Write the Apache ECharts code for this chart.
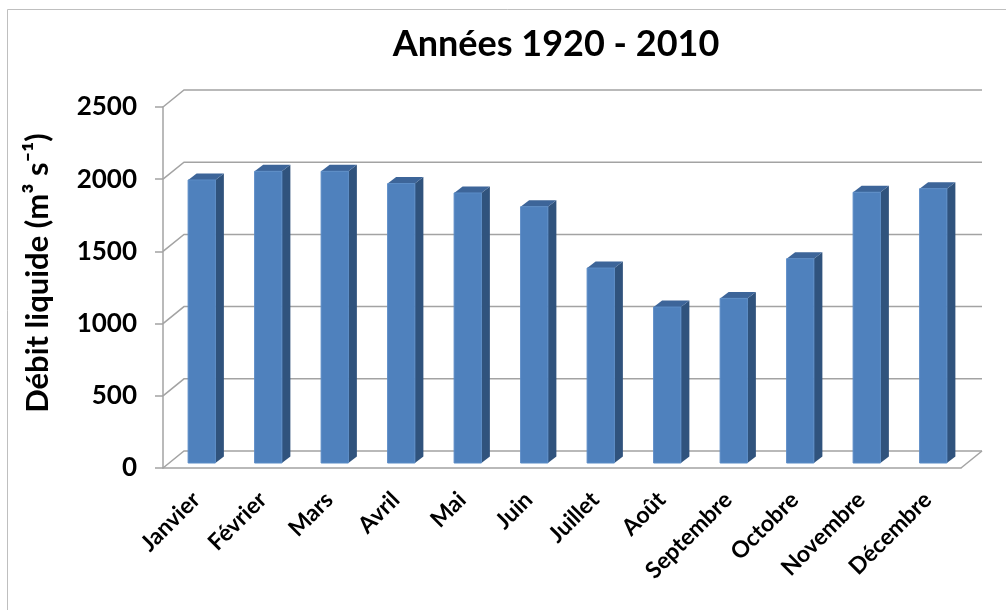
<!DOCTYPE html>
<html>
<head>
<meta charset="utf-8">
<script src="https://cdn.jsdelivr.net/npm/echarts@6/dist/echarts.min.js"></script>
<style>
  html, body { margin: 0; padding: 0; background: #fff; }
  #chart { width: 1006px; height: 610px; }
</style>
</head>
<body>
<div id="chart"></div>
<script>
// données
const months = ['Janvier', 'Février', 'Mars', 'Avril', 'Mai', 'Juin',
  'Juillet', 'Août', 'Septembre', 'Octobre', 'Novembre', 'Décembre'];
const debit = [1960, 2020, 2020, 1935, 1870, 1775, 1350, 1080, 1140, 1415, 1875, 1900];
const yTicks = [0, 500, 1000, 1500, 2000, 2500];

const FONT = 'Lato, "DejaVu Sans", sans-serif';
const GRID_COLOR = '#a3a3a3';
// profondeur du décor 3D (mur du fond)
const DEPTH_X = 21, DEPTH_Y = -17;

const chart = echarts.init(document.getElementById('chart'));

// mur du fond + plancher, tracés depuis les graduations de l'axe
function renderWall(params, api) {
  const cs = params.coordSys;
  const v = api.value(1);
  const y = api.coord([0, v])[1];
  const style = { stroke: GRID_COLOR, lineWidth: 1.5, fill: null };
  const children = [{
    type: 'polyline',
    shape: { points: [[cs.x, y], [cs.x + DEPTH_X, y + DEPTH_Y], [cs.x + cs.width + DEPTH_X, y + DEPTH_Y]] },
    style: style
  }];
  if (v === 0) {
    children.push({
      type: 'line',
      shape: { x1: cs.x + cs.width, y1: y, x2: cs.x + cs.width + DEPTH_X, y2: y + DEPTH_Y },
      style: style
    });
  }
  return { type: 'group', children: children };
}

// barres façon Excel 3D
function renderBar(params, api) {
  const i = api.value(0);
  const v = api.value(1);
  const top = api.coord([i, v]);
  const base = api.coord([i, 0]);
  const bw = api.size([1, 0])[0] * 0.41;
  const ox = 5.5, oy = -5, dx = 8.5, dy = -6.5;
  const x0 = top[0] - bw / 2 + ox;
  const x1 = x0 + bw;
  const yt = top[1] + oy;
  const yb = base[1] + oy;
  return {
    type: 'group',
    children: [
      {
        type: 'polygon',
        shape: { points: [[x1, yt], [x1 + dx, yt + dy], [x1 + dx, yb + dy], [x1, yb]] },
        style: { fill: '#30537d' }
      },
      {
        type: 'polygon',
        shape: { points: [[x0, yt], [x0 + dx, yt + dy], [x1 + dx, yt + dy], [x1, yt]] },
        style: { fill: '#3d6599' }
      },
      {
        type: 'rect',
        shape: { x: x0, y: yt, width: bw, height: yb - yt },
        style: { fill: '#4f81bd', stroke: '#5b8cc6', lineWidth: 1 }
      }
    ]
  };
}

const option = {
  animation: false,
  backgroundColor: '#fff',
  title: {
    text: 'Années 1920 - 2010',
    left: 551,
    textAlign: 'center',
    top: 21,
    textStyle: { fontFamily: FONT, fontSize: 36, fontWeight: 'bold', color: '#000' }
  },
  graphic: [
    {
      type: 'rect',
      shape: { x: 7.5, y: 9.5, width: 1010, height: 610 },
      style: { fill: null, stroke: '#bfbfbf', lineWidth: 1 },
      silent: true
    },
    {
      type: 'text',
      x: 38,
      y: 273,
      rotation: Math.PI / 2,
      style: {
        text: 'Débit liquide (m³ s⁻¹)',
        font: 'bold 31px ' + FONT,
        fill: '#000',
        align: 'center',
        verticalAlign: 'middle'
      }
    }
  ],
  grid: { left: 163, right: 45, top: 107, bottom: 142 },
  xAxis: {
    type: 'category',
    data: months,
    axisLine: { lineStyle: { color: GRID_COLOR, width: 1.5 } },
    axisTick: { length: 10, lineStyle: { color: GRID_COLOR, width: 1.5 } },
    axisLabel: {
      rotate: 45,
      margin: 28,
      fontFamily: FONT,
      fontSize: 23,
      fontWeight: 'bold',
      color: '#000',
      interval: 0
    }
  },
  yAxis: {
    type: 'value',
    min: 0,
    max: 2500,
    interval: 500,
    axisLine: { show: true, lineStyle: { color: GRID_COLOR, width: 1.5 } },
    axisTick: { show: true, length: 8, lineStyle: { color: GRID_COLOR, width: 1.5 } },
    splitLine: { show: false },
    axisLabel: {
      margin: 26,
      formatter: v => String(v),
      fontFamily: FONT,
      fontSize: 26,
      fontWeight: 'bold',
      color: '#000'
    }
  },
  series: [
    {
      type: 'custom',
      silent: true,
      z: 1,
      renderItem: renderWall,
      data: yTicks.map(v => [0, v]),
      clip: false
    },
    {
      type: 'custom',
      z: 3,
      renderItem: renderBar,
      data: debit.map((v, i) => [i, v]),
      clip: false
    }
  ]
};

chart.setOption(option);
</script>
</body>
</html>
